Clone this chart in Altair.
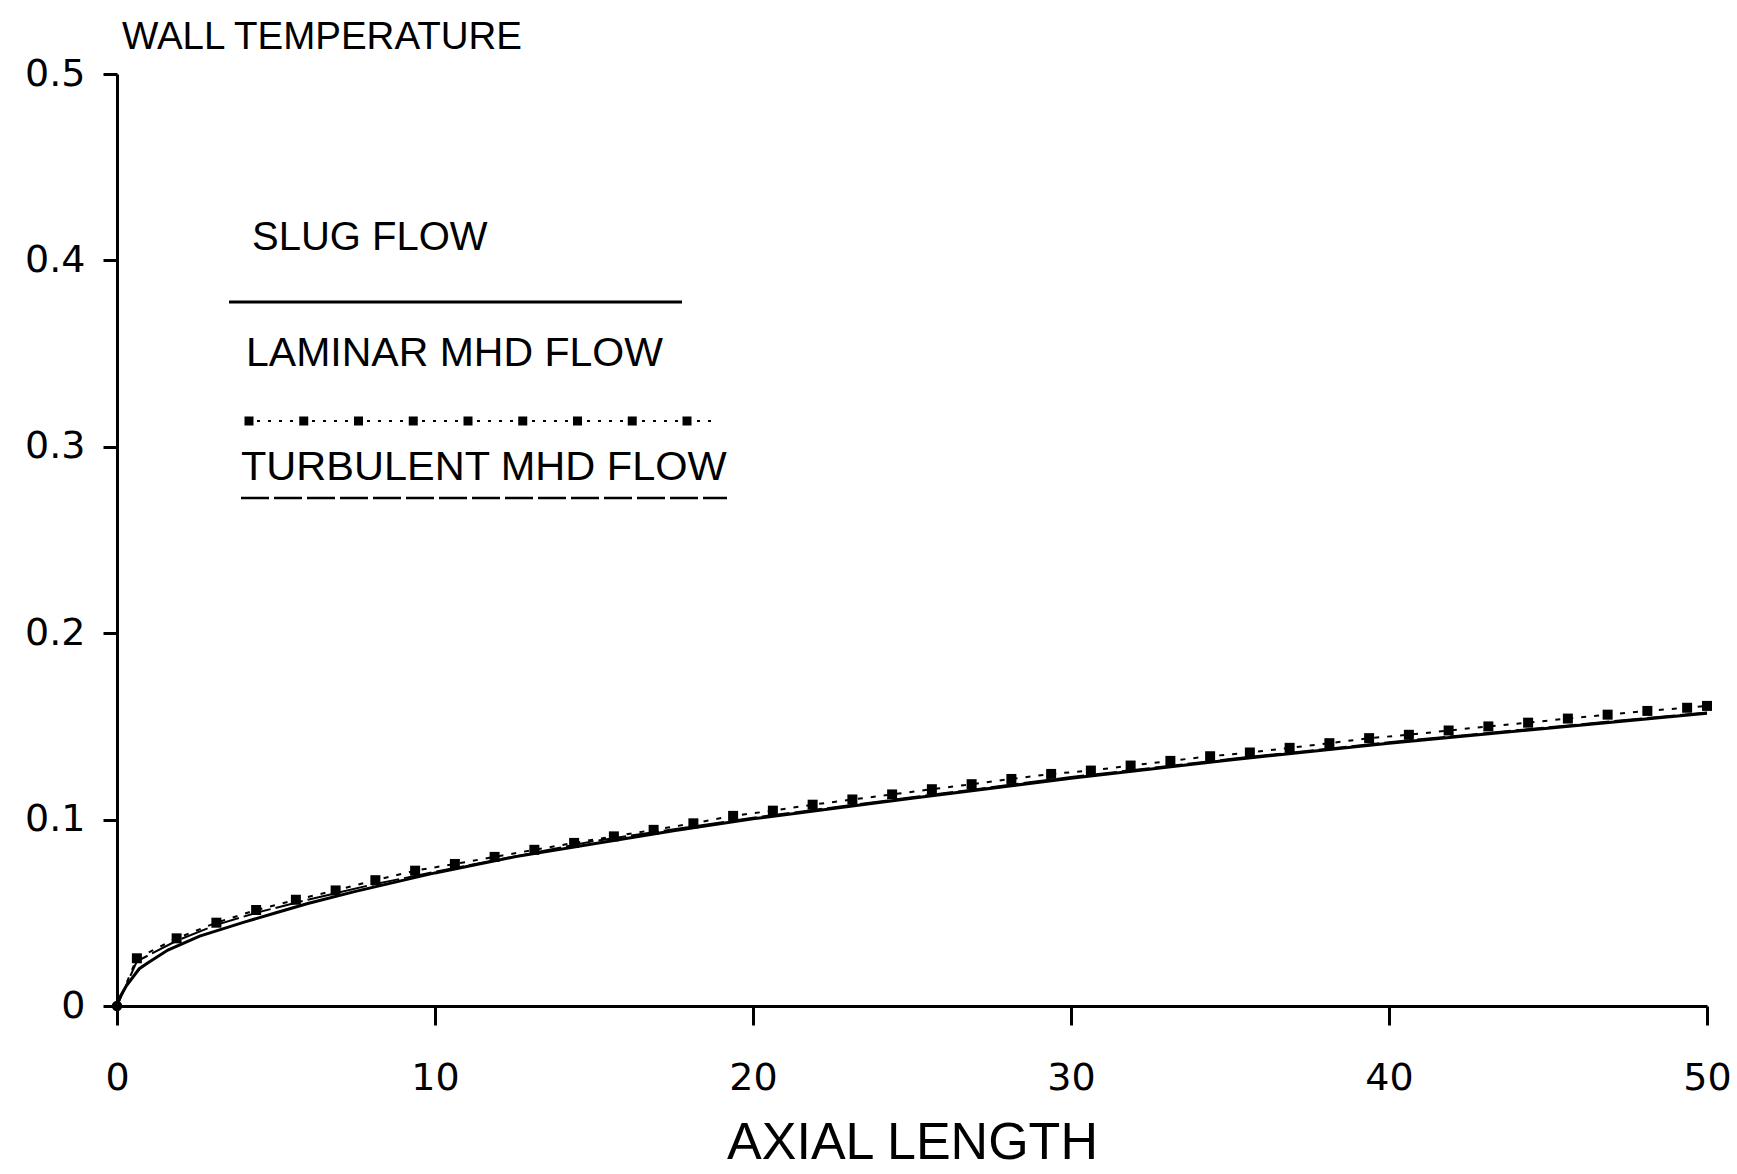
import altair as alt
import pandas as pd

# ---- data ----
slug_x = [0, 0.1, 0.3, 0.7, 1.0, 1.6, 2.6, 3.25, 4, 5, 6, 7.5, 10, 12.5, 15,
          17.5, 20, 25, 30, 35, 40, 45, 50]
slug_y = [0, 0.005, 0.011, 0.020, 0.0235, 0.030, 0.0375, 0.041, 0.045, 0.050,
          0.055, 0.0615, 0.0714, 0.080, 0.087, 0.094, 0.1004, 0.1115, 0.1222,
          0.132, 0.141, 0.149, 0.157]

lam_x = [0.625, 1.875, 3.125, 4.375, 5.625, 6.875, 8.125, 9.375, 10.625,
         11.875, 13.125, 14.375, 15.625, 16.875, 18.125, 19.375, 20.625,
         21.875, 23.125, 24.375, 25.625, 26.875, 28.125, 29.375, 30.625,
         31.875, 33.125, 34.375, 35.625, 36.875, 38.125, 39.375, 40.625,
         41.875, 43.125, 44.375, 45.625, 46.875, 48.125, 49.375, 50]
lam_y = [0.0256, 0.0363, 0.0447, 0.0515, 0.057, 0.062, 0.0675, 0.0726, 0.0762,
         0.080, 0.0838, 0.0875, 0.091, 0.0945, 0.098, 0.102, 0.1048, 0.108,
         0.1108, 0.1135, 0.1163, 0.119, 0.1218, 0.1245, 0.1263, 0.129,
         0.1315, 0.134, 0.136, 0.1385, 0.141, 0.1437, 0.1455, 0.1478, 0.150,
         0.152, 0.1542, 0.1563, 0.1583, 0.160, 0.161]

turb_x = [0, 0.625, 1.875, 3.125, 4.375, 6, 8, 10, 15, 20, 25, 30, 35, 40, 45, 50]
turb_y = [0, 0.024, 0.035, 0.0435, 0.050, 0.057, 0.065, 0.072, 0.0885, 0.101,
          0.112, 0.1228, 0.1325, 0.1415, 0.1495, 0.1575]

x_ticks = [0, 10, 20, 30, 40, 50]
y_ticks = [0, 0.1, 0.2, 0.3, 0.4, 0.5]

legend_labels = ["SLUG FLOW", "LAMINAR MHD FLOW", "TURBULENT MHD FLOW"]
y_title = "WALL TEMPERATURE"
x_title = "AXIAL LENGTH"

# ---- chart ----
W, H = 1590, 932
FONT = "Liberation Sans"
NUMFONT = "DejaVu Sans"

slug_df = pd.DataFrame({"x": slug_x, "y": slug_y})
lam_df = pd.DataFrame({"x": lam_x, "y": lam_y})
lam_line_df = pd.DataFrame({"x": [0] + lam_x, "y": [0] + lam_y})
turb_df = pd.DataFrame({"x": turb_x, "y": turb_y})
origin_df = slug_df.iloc[:1]

xs = alt.Scale(domain=[0, 50], nice=False, zero=False)
ys = alt.Scale(domain=[0, 0.5], nice=False, zero=False)

x_axis = alt.Axis(values=x_ticks, title=x_title, grid=False, domainColor="black",
                  domainWidth=3, tickColor="black", tickWidth=3, tickSize=19,
                  labelFont=NUMFONT, labelFontSize=38, labelColor="black",
                  labelPadding=34, labelFlush=False,
                  titleFont=FONT, titleFontSize=52, titleFontWeight="normal",
                  titleColor="black", titlePadding=20)
y_axis = alt.Axis(values=y_ticks, title=None, grid=False, domainColor="black",
                  domainWidth=3, tickColor="black", tickWidth=3, tickSize=14,
                  labelFont=NUMFONT, labelFontSize=38, labelColor="black",
                  labelPadding=18, labelFlush=False,
                  labelExpr="datum.value == 0 ? '0' : format(datum.value, '.1f')")

slug = alt.Chart(slug_df).mark_line(color="black", strokeWidth=3).encode(
    x=alt.X("x:Q", scale=xs, axis=x_axis),
    y=alt.Y("y:Q", scale=ys, axis=y_axis),
)
origin = alt.Chart(origin_df).mark_circle(color="black", opacity=1, size=110).encode(
    x=alt.X("x:Q", scale=xs), y=alt.Y("y:Q", scale=ys))
turb = alt.Chart(turb_df).mark_line(color="black", strokeWidth=2,
                                    strokeDash=[28, 5]).encode(
    x=alt.X("x:Q", scale=xs), y=alt.Y("y:Q", scale=ys))
lam_line = alt.Chart(lam_line_df).mark_line(color="black", strokeWidth=2,
                                            strokeDash=[5, 8]).encode(
    x=alt.X("x:Q", scale=xs), y=alt.Y("y:Q", scale=ys))
lam_pts = alt.Chart(lam_df).mark_square(color="black", filled=True, opacity=1,
                                        size=100).encode(
    x=alt.X("x:Q", scale=xs), y=alt.Y("y:Q", scale=ys))

one = pd.DataFrame({"a": [0]})


def txt(s, x, y, size, align="left"):
    return alt.Chart(one).mark_text(text=s, font=FONT, fontSize=size,
                                    color="black", align=align,
                                    baseline="middle").encode(
        x=alt.value(x), y=alt.value(y))


def rule(x1, x2, y, width, dash=None):
    kw = dict(color="black", strokeWidth=width, strokeCap="butt")
    if dash is not None:
        kw["strokeDash"] = dash
    return alt.Chart(one).mark_rule(**kw).encode(
        x=alt.value(x1), x2=alt.value(x2), y=alt.value(y))


title_txt = txt(y_title, 5, -37, 38.5)
leg1 = txt(legend_labels[0], 135, 164, 40)
leg2 = txt(legend_labels[1], 129, 280, 41)
leg3 = txt(legend_labels[2], 124, 394, 41.5)
r1 = rule(112, 565, 228, 3)
r2 = rule(129, 597, 347, 2, [3, 8])
r2sq = rule(127.5, 575, 347, 9, [9, 45.75])
r3 = rule(124, 610, 424, 2.5, [28, 5])

chart = alt.layer(
    slug, turb, lam_line, lam_pts, origin,
    title_txt, leg1, leg2, leg3, r1, r2, r2sq, r3,
).properties(
    width=W, height=H,
    autosize=alt.AutoSizeParams(type="none"),
    padding={"left": 117, "top": 74, "right": 30, "bottom": 168},
    background="white",
).configure_view(stroke=None)

chart.save("out.html", embed_options={"renderer": "svg", "actions": False})
